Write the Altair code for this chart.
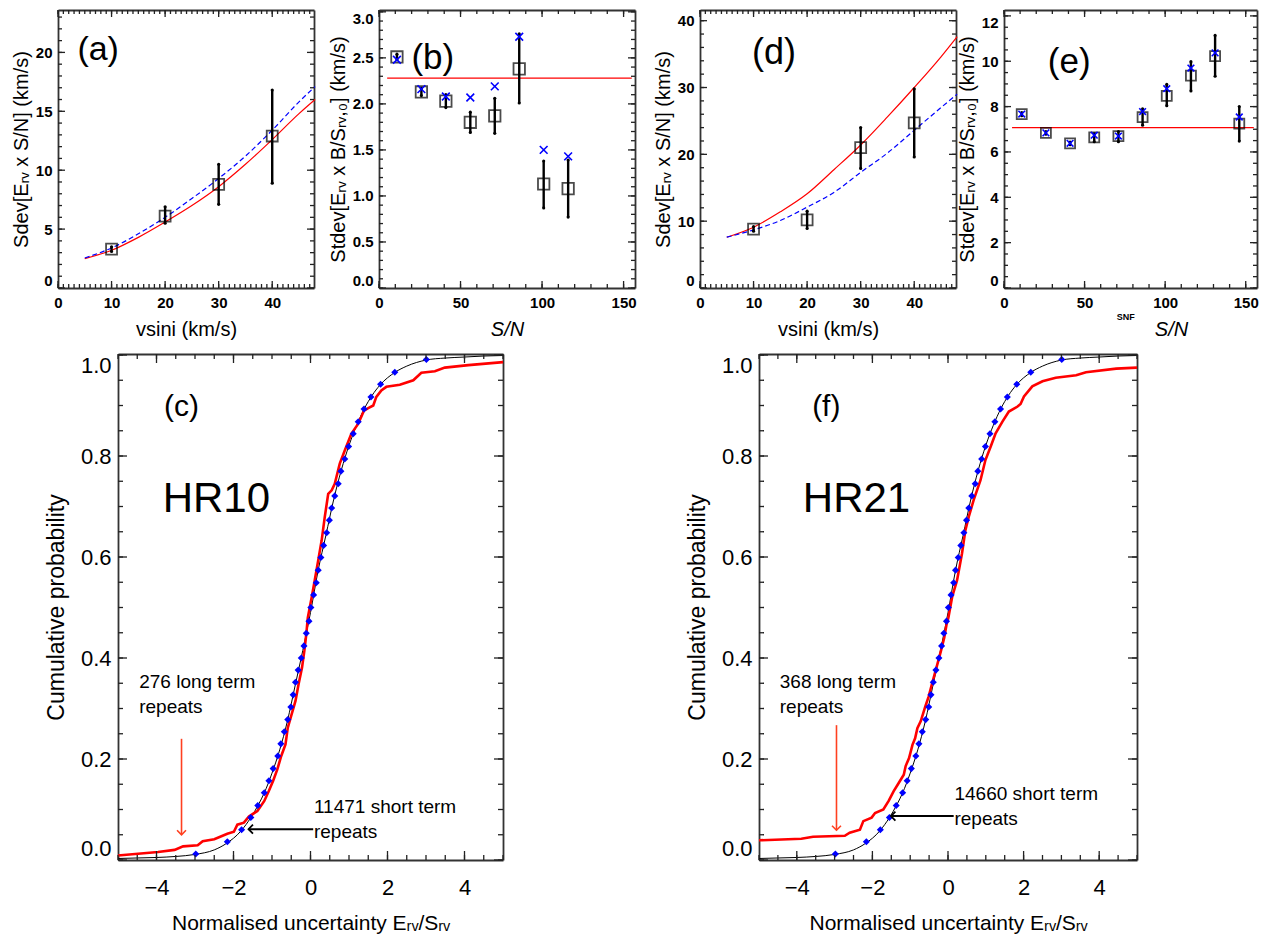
import altair as alt
import pandas as pd

FONT = "Liberation Sans"
NOTE_FONT = "Liberation Sans Narrow, Liberation Sans"
RED = "#ff0000"
BLUE = "#0000ff"
ARROW_RED = "#ff4020"

# ---------------- (a) HR10 : dispersion vs vsini ----------------
a_vsini = [10, 20, 30, 40]
a_sdev = [3.3, 6.1, 8.8, 12.9]
a_lo = [3.1, 5.5, 7.1, 8.9]
a_hi = [3.5, 6.9, 10.5, 16.8]
a_fit_x = [5, 10, 15, 20, 25, 30, 35, 40, 45, 48]
a_fit_red = [2.5, 3.2, 4.3, 5.6, 7.0, 8.6, 10.5, 12.6, 14.8, 16.0]
a_fit_blue = [2.55, 3.4, 4.6, 6.0, 7.6, 9.3, 11.2, 13.4, 15.8, 17.1]

# ---------------- (b) HR10 : dispersion vs S/N ----------------
b_snr = [11, 26, 41, 56, 71, 86, 101, 116]
b_sq = [2.51, 2.13, 2.03, 1.80, 1.87, 2.38, 1.13, 1.08]
b_lo = [2.48, 2.09, 1.96, 1.69, 1.68, 2.01, 0.87, 0.77]
b_hi = [2.54, 2.17, 2.10, 1.91, 2.06, 2.76, 1.38, 1.39]
b_cross = [2.48, 2.16, 2.08, 2.07, 2.19, 2.73, 1.50, 1.43]
b_level_x = [5, 155]
b_level_y = [2.28, 2.28]

# ---------------- (d) HR21 : dispersion vs vsini ----------------
d_vsini = [10, 20, 30, 40]
d_sdev = [8.8, 10.2, 21.0, 24.7]
d_lo = [8.5, 8.9, 17.9, 19.6]
d_hi = [9.2, 11.5, 24.0, 29.8]
d_fit_x = [5, 10, 15, 20, 25, 30, 35, 40, 45, 48]
d_fit_red = [7.6, 9.1, 11.4, 14.1, 17.7, 21.4, 25.6, 30.0, 34.6, 37.6]
d_fit_blue = [7.6, 8.7, 10.1, 12.1, 14.3, 17.3, 20.2, 23.6, 27.0, 29.0]

# ---------------- (e) HR21 : dispersion vs S/N ----------------
e_snr = [11, 26, 41, 56, 71, 86, 101, 116, 131, 146]
e_sq = [7.67, 6.84, 6.38, 6.64, 6.70, 7.54, 8.47, 9.37, 10.23, 7.25]
e_lo = [7.60, 6.78, 6.32, 6.45, 6.45, 7.18, 8.04, 8.69, 9.34, 6.48]
e_hi = [7.74, 6.90, 6.44, 6.80, 6.90, 7.90, 8.98, 9.98, 11.14, 8.00]
e_cross = [7.67, 6.84, 6.38, 6.74, 6.70, 7.78, 8.79, 9.70, 10.37, 7.54]
e_level_x = [5, 155]
e_level_y = [7.07, 7.07]

# ---------------- (c)/(f) cumulative distributions ----------------
ref_x = [-5, -4.5, -4, -3.5, -3, -2.5, -2.2, -1.8, -1.55, -1.35, -1.2, -1.0, -0.8,
         -0.6, -0.4, -0.2, 0, 0.2, 0.4, 0.6, 0.8, 1.0, 1.2, 1.4, 1.6, 1.8, 2.2, 2.5,
         3.0, 3.5, 4.0, 4.5, 5.0]
ref_p = [0.003, 0.004, 0.005, 0.007, 0.011, 0.02, 0.032, 0.058, 0.084, 0.11, 0.133,
         0.172, 0.218, 0.275, 0.345, 0.415, 0.49, 0.574, 0.643, 0.713, 0.772, 0.821,
         0.861, 0.894, 0.92, 0.94, 0.966, 0.978, 0.99, 0.994, 0.996, 0.998, 0.999]
dot_x = [-2.98, -2.16, -1.79, -1.55, -1.37, -1.2, -1.08, -0.97, -0.85, -0.77, -0.68,
         -0.59, -0.51, -0.45, -0.39, -0.32, -0.24, -0.17, -0.11, -0.04, 0.01, 0.08,
         0.15, 0.2, 0.27, 0.34, 0.42, 0.49, 0.55, 0.63, 0.72, 0.79, 0.89, 0.99, 1.11,
         1.24, 1.39, 1.57, 1.82, 2.19, 3.01]
dot_p = [0.012, 0.036, 0.060, 0.084, 0.108, 0.133, 0.157, 0.181, 0.206, 0.230, 0.254,
         0.278, 0.303, 0.327, 0.352, 0.376, 0.400, 0.424, 0.449, 0.473, 0.500, 0.525,
         0.549, 0.574, 0.599, 0.623, 0.648, 0.673, 0.697, 0.721, 0.745, 0.770, 0.794,
         0.819, 0.844, 0.868, 0.893, 0.917, 0.942, 0.966, 0.991]

c_red_x = [-5, -3.96, -3.53, -3.31, -2.93, -2.8, -2.5, -2.16, -1.99, -1.9, -1.73, -1.6,
           -1.38, -1.2, -1.08, -0.97, -0.86, -0.76, -0.65, -0.59, -0.5, -0.39, -0.31,
           -0.22, -0.16, -0.11, -0.07, 0.03, 0.11, 0.2, 0.29, 0.37, 0.46, 0.55, 0.63,
           0.76, 0.89, 1.06, 1.24, 1.39, 1.5, 1.63, 1.71, 1.84, 1.97, 2.32, 2.67, 2.88,
           3.23, 3.49, 4.1, 5.0]
c_red_p = [0.009, 0.016, 0.020, 0.027, 0.029, 0.037, 0.041, 0.052, 0.056, 0.070, 0.074,
           0.086, 0.097, 0.117, 0.137, 0.157, 0.180, 0.206, 0.229, 0.262, 0.286, 0.315,
           0.348, 0.381, 0.414, 0.447, 0.48, 0.52, 0.554, 0.593, 0.633, 0.679, 0.725,
           0.732, 0.745, 0.785, 0.811, 0.844, 0.864, 0.89, 0.895, 0.9, 0.917, 0.93,
           0.937, 0.941, 0.95, 0.965, 0.968, 0.975, 0.98, 0.986]

f_red_x = [-5.0, -3.88, -3.57, -2.73, -2.6, -2.33, -2.24, -2.02, -1.93, -1.71, -1.57,
           -1.44, -1.3, -1.17, -1.12, -1.03, -0.94, -0.87, -0.81, -0.72, -0.6, -0.51,
           -0.43, -0.32, -0.19, -0.1, -0.04, 0.01, 0.11, 0.24, 0.37, 0.46, 0.55, 0.68,
           0.86, 0.99, 1.13, 1.26, 1.44, 1.61, 1.84, 1.92, 2.01, 2.23, 2.5, 2.85, 3.39,
           3.65, 4.45, 5.0]
f_red_p = [0.039, 0.042, 0.046, 0.048, 0.054, 0.060, 0.077, 0.084, 0.093, 0.100, 0.117,
           0.136, 0.153, 0.169, 0.186, 0.202, 0.228, 0.241, 0.261, 0.275, 0.304, 0.324,
           0.347, 0.377, 0.413, 0.44, 0.466, 0.48, 0.521, 0.554, 0.607, 0.653, 0.680,
           0.713, 0.752, 0.792, 0.819, 0.845, 0.868, 0.888, 0.898, 0.903, 0.918, 0.938,
           0.948, 0.955, 0.96, 0.966, 0.973, 0.975]

# annotation anchors (data coordinates)
c_long_arrow = [-3.35, 0.24, 0.05]      # x, from y, to y
c_short_arrow = [0.07, -1.61, 0.061]    # from x, to x, y
f_long_arrow = [-2.95, 0.267, 0.059]
f_short_arrow = [0.15, -1.51, 0.087]

# tick positions: major x, minor x, major y, minor y
a_ticks = ([0, 10, 20, 30, 40], list(range(0, 48)), [0, 5, 10, 15, 20], list(range(0, 24)))
b_ticks = ([0, 50, 100, 150], list(range(0, 160, 10)), [0, 0.5, 1.0, 1.5, 2.0, 2.5, 3.0],
           [i / 10 for i in range(31)])
d_ticks = ([0, 10, 20, 30, 40], list(range(0, 48)), [0, 10, 20, 30, 40], list(range(0, 42, 2)))
e_ticks = ([0, 50, 100, 150], list(range(0, 160, 10)), [0, 2, 4, 6, 8, 10, 12],
           [i / 2 for i in range(25)])
cf_ticks = ([-4, -2, 0, 2, 4], [i / 2 for i in range(-10, 11)], [0, 0.2, 0.4, 0.6, 0.8, 1.0],
            [i / 20 for i in range(21)])

TOP = dict(maj=7, min=4, lab=15, w="bold", xpad=7, ypad=6, xts=20, yts=20, xtp=9, ytp=4)
BOT = dict(maj=9, min=5, lab=22, w="normal", xpad=17, ypad=7, xts=21, yts=23, xtp=14, ytp=12)


def scales(xdom, ydom):
    xs = alt.Scale(domain=xdom, nice=False, zero=False)
    ys = alt.Scale(domain=ydom, nice=False, zero=False)

    def X(f):
        return alt.X(f, type="quantitative", scale=xs, axis=None)

    def Y(f):
        return alt.Y(f, type="quantitative", scale=ys, axis=None)
    return X, Y


def frame(xdom, ydom, ticks, w, h, xtitle, ytitle, st, xfmt, yfmt, xstyle="normal",
          xtitle_x=None):
    # IDL-like box with inward major + minor ticks on all four sides
    xmaj, xmin, ymaj, ymin = ticks
    X, Y = scales(xdom, ydom)
    xs = alt.Scale(domain=xdom, nice=False, zero=False)
    ys = alt.Scale(domain=ydom, nice=False, zero=False)
    pt = pd.DataFrame({"x": [xdom[0]], "y": [ydom[0]]})
    base = dict(grid=False, ticks=False, domainColor="#333", domainWidth=1.8)

    # tick lengths are given in pixels; express them in data units of each panel
    uy = (ydom[1] - ydom[0]) / h
    ux = (xdom[1] - xdom[0]) / w
    vt = pd.DataFrame({
        "x": xmaj + xmaj + xmin + xmin,
        "y0": [ydom[0]] * len(xmaj) + [ydom[1]] * len(xmaj) + [ydom[0]] * len(xmin) + [ydom[1]] * len(xmin),
        "y1": ([ydom[0] + st["maj"] * uy] * len(xmaj) + [ydom[1] - st["maj"] * uy] * len(xmaj)
               + [ydom[0] + st["min"] * uy] * len(xmin) + [ydom[1] - st["min"] * uy] * len(xmin))})
    ht = pd.DataFrame({
        "y": ymaj + ymaj + ymin + ymin,
        "x0": [xdom[0]] * len(ymaj) + [xdom[1]] * len(ymaj) + [xdom[0]] * len(ymin) + [xdom[1]] * len(ymin),
        "x1": ([xdom[0] + st["maj"] * ux] * len(ymaj) + [xdom[1] - st["maj"] * ux] * len(ymaj)
               + [xdom[0] + st["min"] * ux] * len(ymin) + [xdom[1] - st["min"] * ux] * len(ymin))})
    out = [
        alt.Chart(vt).mark_rule(color="#222", strokeWidth=1.3).encode(
            x=X("x"), y=Y("y0"), y2=alt.Y2("y1")),
        alt.Chart(ht).mark_rule(color="#222", strokeWidth=1.3).encode(
            y=Y("y"), x=X("x0"), x2=alt.X2("x1")),
    ]

    xa = dict(base, orient="bottom", values=xmaj, domain=True, labels=True, title=xtitle,
              labelFlush=False, labelFont=FONT, labelFontSize=st["lab"], labelFontWeight=st["w"],
              labelColor="black", labelPadding=st["xpad"], format=xfmt, titleFont=FONT,
              titleFontSize=st["xts"], titleFontWeight="normal", titleFontStyle=xstyle,
              titleColor="black", titlePadding=st["xtp"])
    if xtitle_x is not None:
        xa.update(titleX=xtitle_x, titleAlign="center")
    ya = dict(base, orient="left", values=ymaj, domain=True, labels=True, title=ytitle,
              labelFlush=8, labelFont=FONT, labelFontSize=st["lab"], labelFontWeight=st["w"],
              labelColor="black", labelPadding=st["ypad"], format=yfmt, titleFont=FONT,
              titleFontSize=st["yts"], titleFontWeight="normal", titleColor="black",
              titlePadding=st["ytp"])
    xb = dict(base, orient="top", values=xmaj, domain=True, labels=False, title=None)
    yb = dict(base, orient="right", values=ymaj, domain=True, labels=False, title=None)
    for xx, yy in ((xa, ya), (xb, yb)):
        out.append(alt.Chart(pt).mark_point(opacity=0).encode(
            x=alt.X("x:Q", scale=xs, axis=alt.Axis(**xx)),
            y=alt.Y("y:Q", scale=ys, axis=alt.Axis(**yy))))
    return out


def errbars(X, Y, xv, lo, hi):
    df = pd.DataFrame({"x": xv, "lo": lo, "hi": hi})
    ends = pd.DataFrame({"x": xv + xv, "y": lo + hi})
    rule = alt.Chart(df).mark_rule(color="black", strokeWidth=2.4).encode(
        x=X("x"), y=Y("lo"), y2=alt.Y2("hi"))
    caps = alt.Chart(ends).mark_circle(color="black", size=10, opacity=1).encode(x=X("x"), y=Y("y"))
    return [rule, caps]


def squares(X, Y, xv, yv, size):
    df = pd.DataFrame({"x": xv, "y": yv})
    return alt.Chart(df).mark_square(filled=False, color="black", strokeWidth=1.8, size=size).encode(
        x=X("x"), y=Y("y"))


CROSS = "M-1,-1L1,1M-1,1L1,-1"
DOWN = "M-1,-1L0,0L1,-1"
LEFT = "M1,-1L0,0L1,1"


def crosses(X, Y, xv, yv, size):
    df = pd.DataFrame({"x": xv, "y": yv})
    return alt.Chart(df).mark_point(shape=CROSS, filled=False, color=BLUE, strokeWidth=1.6,
                                    size=size, opacity=1).encode(x=X("x"), y=Y("y"))


def label(X, Y, x, y, text, size, align="center", font=FONT):
    df = pd.DataFrame({"x": [x], "y": [y], "t": [text]})
    return alt.Chart(df).mark_text(font=font, fontSize=size, align=align, baseline="middle",
                                   color="black").encode(x=X("x"), y=Y("y"), text="t:N")


def fits(X, Y, fx, red, blue):
    df = pd.DataFrame({"x": fx, "red": red, "blue": blue})
    r = alt.Chart(df).mark_line(color=RED, strokeWidth=1.2, interpolate="monotone").encode(
        x=X("x"), y=Y("red"))
    b = alt.Chart(df).mark_line(color=BLUE, strokeWidth=1.2, strokeDash=[5, 3],
                                interpolate="monotone").encode(x=X("x"), y=Y("blue"))
    return [r, b]


def level(X, Y, lx, ly):
    df = pd.DataFrame({"x": lx, "y": ly})
    return alt.Chart(df).mark_line(color=RED, strokeWidth=1.2).encode(x=X("x"), y=Y("y"))


def panel(layers, w, h):
    return alt.layer(*layers).resolve_axis(x="independent", y="independent").properties(
        width=w, height=h)


W1, H1 = 256, 278
W2, H2 = 385, 506

# ---- (a)
dom_a = ([0, 47.8], [0, 23.6])
X, Y = scales(*dom_a)
pa = panel(fits(X, Y, a_fit_x, a_fit_red, a_fit_blue)
           + errbars(X, Y, a_vsini, a_lo, a_hi)
           + [squares(X, Y, a_vsini, a_sdev, 120), label(X, Y, 7.5, 20.2, "(a)", 34)]
           + frame(*dom_a, a_ticks, W1, H1, "vsini  (km/s)", "Sdev[Eᵣᵥ x S/N] (km/s)", TOP,
                   "d", "d"),
           W1, H1)

# ---- (b)
dom_b = ([0, 157], [0, 3.02])
X, Y = scales(*dom_b)
pb = panel([level(X, Y, b_level_x, b_level_y)]
           + errbars(X, Y, b_snr, b_lo, b_hi)
           + [squares(X, Y, b_snr, b_sq, 130), crosses(X, Y, b_snr, b_cross, 60),
              label(X, Y, 33, 2.5, "(b)", 35)]
           + frame(*dom_b, b_ticks, W1, H1, "S/N", "Stdev[Eᵣᵥ x B/Sᵣᵥ,₀] (km/s)", TOP, "d",
                   ".1f", xstyle="italic"),
           W1, H1)

# ---- (d)
dom_d = ([0, 47.8], [0, 41.6])
X, Y = scales(*dom_d)
pd_ = panel(fits(X, Y, d_fit_x, d_fit_red, d_fit_blue)
            + errbars(X, Y, d_vsini, d_lo, d_hi)
            + [squares(X, Y, d_vsini, d_sdev, 120), label(X, Y, 13.8, 35.1, "(d)", 36)]
            + frame(*dom_d, d_ticks, W1, H1, "vsini  (km/s)", "Sdev[Eᵣᵥ x S/N] (km/s)", TOP,
                    "d", "d"),
            W1, H1)

# ---- (e)
dom_e = ([0, 157], [0, 12.26])
X, Y = scales(*dom_e)
pe = panel([level(X, Y, e_level_x, e_level_y)]
           + errbars(X, Y, e_snr, e_lo, e_hi)
           + [squares(X, Y, e_snr, e_sq, 100), crosses(X, Y, e_snr, e_cross, 45),
              label(X, Y, 40.5, 9.97, "(e)", 35),
              alt.Chart(pd.DataFrame({"x": [75.6], "y": [-1.3], "t": ["SNF"]})).mark_text(
                  font=FONT, fontSize=9, fontWeight="bold", color="black").encode(
                  x=X("x"), y=Y("y"), text="t:N")]
           + frame(*dom_e, e_ticks, 253, H1, "S/N", "Stdev[Eᵣᵥ x B/Sᵣᵥ,₀] (km/s)", TOP, "d",
                   "d", xstyle="italic", xtitle_x=167),
           253, H1)


def cdf_panel(red_x, red_p, long_arrow, short_arrow, long_txt, short_txt, tag, name, w):
    dom = ([-5, 5], [0, 1.002])
    X, Y = scales(*dom)
    ref = pd.DataFrame({"x": ref_x, "p": ref_p})
    dots = pd.DataFrame({"x": dot_x, "p": dot_p})
    red = pd.DataFrame({"x": red_x, "p": red_p})
    la = pd.DataFrame({"x": [long_arrow[0]], "y": [long_arrow[1]], "y2": [long_arrow[2]]})
    sa = pd.DataFrame({"x": [short_arrow[0]], "x2": [short_arrow[1]], "y": [short_arrow[2]]})
    txt = pd.DataFrame({"x": [-4.45, short_arrow[0] + 0.02],
                        "y": [0.37, short_arrow[2] + 0.062],
                        "t": [long_txt, short_txt]})
    layers = [
        alt.Chart(ref).mark_line(color="black", strokeWidth=1, interpolate="monotone").encode(
            x=X("x"), y=Y("p")),
        alt.Chart(red).mark_line(color=RED, strokeWidth=2.6).encode(x=X("x"), y=Y("p")),
        alt.Chart(dots).mark_point(shape="diamond", filled=True, color=BLUE, size=50,
                                   opacity=1).encode(x=X("x"), y=Y("p")),
        alt.Chart(la).mark_rule(color=ARROW_RED, strokeWidth=1.6).encode(
            x=X("x"), y=Y("y"), y2=alt.Y2("y2")),
        alt.Chart(la).mark_point(shape=DOWN, filled=False, color=ARROW_RED, strokeWidth=1.6,
                                 size=80, opacity=1).encode(x=X("x"), y=Y("y2")),
        alt.Chart(sa).mark_rule(color="black", strokeWidth=2).encode(
            x=X("x"), x2=alt.X2("x2"), y=Y("y")),
        alt.Chart(sa).mark_point(shape=LEFT, filled=False, color="black", strokeWidth=1.8,
                                 size=80, opacity=1).encode(x=X("x2"), y=Y("y")),
        alt.Chart(txt).mark_text(font=NOTE_FONT, fontSize=19, align="left", baseline="top",
                                 lineBreak="\n", lineHeight=25, color="black").encode(
            x=X("x"), y=Y("y"), text="t:N"),
        label(X, Y, tag[0], 0.897, tag[1], 30),
        label(X, Y, -3.84, 0.715, name, 42, align="left"),
    ]
    layers += frame(*dom, cf_ticks, w, H2, "Normalised uncertainty Eᵣᵥ/Sᵣᵥ",
                    "Cumulative probability", BOT, "d", ".1f")
    return panel(layers, w, H2)


pc = cdf_panel(c_red_x, c_red_p, c_long_arrow, c_short_arrow, "276 long term\nrepeats",
               "11471 short term\nrepeats", (-3.35, "(c)"), "HR10", W2)
pf = cdf_panel(f_red_x, f_red_p, f_long_arrow, f_short_arrow, "368 long term\nrepeats",
               "14660 short term\nrepeats", (-3.22, "(f)"), "HR21", 378)


def spacer(w, h):
    return alt.Chart(pd.DataFrame({"v": [0]})).mark_point(opacity=0).encode(
        x=alt.X("v:Q", axis=None), y=alt.Y("v:Q", axis=None)).properties(width=w, height=h)


top = alt.hconcat(spacer(49, H1), pa, spacer(65, H1), pb, spacer(65, H1), pd_, spacer(48, H1), pe,
                  spacing=0, bounds="flush")
bottom = alt.hconcat(spacer(109, H2), pc, spacer(256, H2), pf, spacing=0, bounds="flush")

chart = alt.vconcat(top, bottom, spacing=12).properties(padding=0).configure_view(
    stroke="transparent")

chart.save("out.html", embed_options={"renderer": "svg", "actions": False})
